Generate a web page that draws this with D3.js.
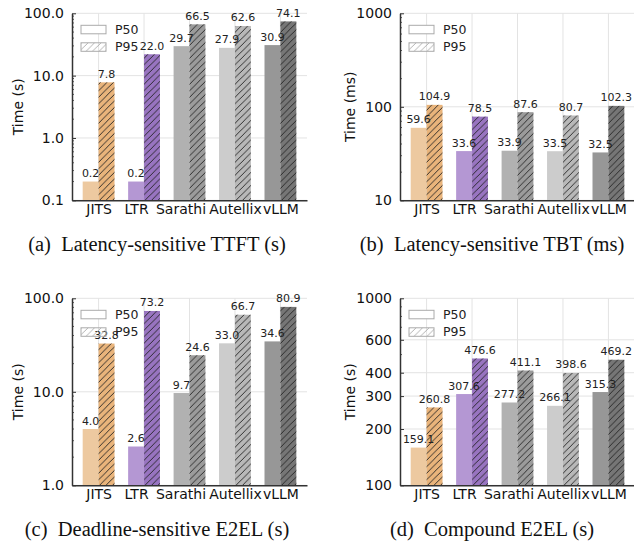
<!DOCTYPE html>
<html>
<head>
<meta charset="utf-8">
<script src="https://cdn.jsdelivr.net/npm/d3@7"></script>
<style>
  body { margin: 0; background: #fff; }
  text { font-family: "DejaVu Sans", sans-serif; }
  text.caption { font-family: "Liberation Serif", "Times New Roman", serif; white-space: pre; }
</style>
</head>
<body>
<script>
// systems on the x axis
var systems = ["JITS", "LTR", "Sarathi", "Autellix", "vLLM"];
var seriesNames = ["P50", "P95"];

// (a) latency-sensitive TTFT (s)
var ttftP50 = [0.2, 0.2, 29.7, 27.9, 30.9];
var ttftP95 = [7.8, 22.0, 66.5, 62.6, 74.1];
// (b) latency-sensitive TBT (ms)
var tbtP50 = [59.6, 33.6, 33.9, 33.5, 32.5];
var tbtP95 = [104.9, 78.5, 87.6, 80.7, 102.3];
// (c) deadline-sensitive E2EL (s)
var e2elP50 = [4.0, 2.6, 9.7, 33.0, 34.6];
var e2elP95 = [32.8, 73.2, 24.6, 66.7, 80.9];
// (d) compound E2EL (s)
var compP50 = [159.1, 307.6, 277.2, 266.1, 315.3];
var compP95 = [260.8, 476.6, 411.1, 398.6, 469.2];

// y ticks
var ticksA = [0.1, 1, 10, 100];
var ticksB = [10, 100, 1000];
var ticksC = [1, 10, 100];
var ticksD = [100, 200, 300, 400, 600, 1000];

var captions = [
  "(a)  Latency-sensitive TTFT (s)",
  "(b)  Latency-sensitive TBT (ms)",
  "(c)  Deadline-sensitive E2EL (s)",
  "(d)  Compound E2EL (s)"
];

var colorsP50 = ["#edc9a0", "#b497d3", "#b1b1b1", "#cccccc", "#979797"];
var colorsP95 = ["#e9b47b", "#9874c0", "#9b9b9b", "#b8b8b8", "#767676"];

var panels = [
  {p50: ttftP50, p95: ttftP95, ticks: ticksA, fmt: d3.format(".1f"), ylabel: "Time (s)", cap: captions[0], left: 72, top: 13.3, lblX: -49},
  {p50: tbtP50, p95: tbtP95, ticks: ticksB, fmt: d3.format("d"), ylabel: "Time (ms)", cap: captions[1], left: 400, top: 13.3, lblX: -45},
  {p50: e2elP50, p95: e2elP95, ticks: ticksC, fmt: d3.format(".1f"), ylabel: "Time (s)", cap: captions[2], left: 72, top: 298.3, lblX: -49},
  {p50: compP50, p95: compP95, ticks: ticksD, fmt: d3.format("d"), ylabel: "Time (s)", cap: captions[3], left: 400, top: 298.3, lblX: -45}
];

var w = 634, h = 546;
var pw = 235, ph = 187;
var barW = 0.35;
// the reference nudges the LTR and Sarathi labels to the left
var labelShift = [0, -8, -9, 0, 0];

var svg = d3.select("body").append("svg")
  .attr("width", w)
  .attr("height", h);

var defs = svg.append("defs");
defs.append("pattern")
  .attr("id", "hatch")
  .attr("patternUnits", "userSpaceOnUse")
  .attr("width", 6.5).attr("height", 6.5)
  .append("path")
  .attr("d", "M-1,1 l2,-2 M0,6.5 l6.5,-6.5 M5.5,7.5 l2,-2")
  .attr("stroke", "#222")
  .attr("stroke-width", 0.9);
defs.append("pattern")
  .attr("id", "hatchLegend")
  .attr("patternUnits", "userSpaceOnUse")
  .attr("width", 6.5).attr("height", 6.5)
  .append("path")
  .attr("d", "M-1,1 l2,-2 M0,6.5 l6.5,-6.5 M5.5,7.5 l2,-2")
  .attr("stroke", "#aaa")
  .attr("stroke-width", 0.9);

panels.forEach(function (p) {
  var g = svg.append("g").attr("transform", "translate(" + p.left + "," + p.top + ")");
  var ymin = p.ticks[0], ymax = p.ticks[p.ticks.length - 1];

  var x = d3.scaleLinear().domain([-0.585, 4.585]).range([0, pw]);
  var y = d3.scaleLog().domain([ymin, ymax]).range([ph, 0]);

  // grid
  g.selectAll("line.vgrid").data(systems).enter().append("line")
    .attr("x1", function (d, i) { return x(i); })
    .attr("x2", function (d, i) { return x(i); })
    .attr("y1", 0).attr("y2", ph)
    .attr("stroke", "#e3e3e3").attr("stroke-width", 1);
  g.selectAll("line.hgrid").data(p.ticks).enter().append("line")
    .attr("x1", 0).attr("x2", pw)
    .attr("y1", function (d) { return y(d); })
    .attr("y2", function (d) { return y(d); })
    .attr("stroke", "#e3e3e3").attr("stroke-width", 1);

  // bars
  [p.p50, p.p95].forEach(function (vals, s) {
    var off = s == 0 ? -barW : 0;
    var bars = g.selectAll("g.bar" + s).data(vals).enter().append("g");
    bars.append("rect")
      .attr("x", function (d, i) { return x(i + off); })
      .attr("width", x(barW) - x(0))
      .attr("y", function (d) { return y(d); })
      .attr("height", function (d) { return ph - y(d); })
      .attr("fill", function (d, i) { return s == 0 ? colorsP50[i] : colorsP95[i]; });
    if (s == 1) {
      bars.append("rect")
        .attr("x", function (d, i) { return x(i + off); })
        .attr("width", x(barW) - x(0))
        .attr("y", function (d) { return y(d); })
        .attr("height", function (d) { return ph - y(d); })
        .attr("fill", "url(#hatch)");
    }
  });

  // value labels on top of all bars
  [p.p50, p.p95].forEach(function (vals, s) {
    var off = s == 0 ? -barW : 0;
    g.selectAll("text.val" + s).data(vals).enter().append("text")
      .attr("x", function (d, i) { return x(i + off + barW / 2); })
      .attr("y", function (d) { return y(d) - 4.5; })
      .attr("text-anchor", "middle")
      .attr("font-size", "11px")
      .attr("fill", "#222")
      .text(function (d) { return d.toFixed(1); });
  });

  // minor ticks
  var minor = [];
  for (var e = Math.floor(Math.log10(ymin)); e < Math.log10(ymax); e++) {
    for (var k = 2; k <= 9; k++) {
      var v = k * Math.pow(10, e);
      if (v > ymin && v < ymax && p.ticks.indexOf(+v.toPrecision(6)) < 0) minor.push(v);
    }
  }
  g.selectAll("line.minor").data(minor).enter().append("line")
    .attr("x1", 0).attr("x2", 2)
    .attr("y1", function (d) { return y(d); })
    .attr("y2", function (d) { return y(d); })
    .attr("stroke", "#333").attr("stroke-width", 0.8);

  // y axis
  var yAxis = d3.axisLeft(y).tickValues(p.ticks).tickFormat(p.fmt)
    .tickSizeInner(-4).tickSizeOuter(0).tickPadding(8);
  var ya = g.append("g").call(yAxis);
  ya.select(".domain").attr("stroke", "#333").attr("stroke-width", 1.5);
  ya.selectAll(".tick line").attr("stroke", "#333").attr("stroke-width", 1);
  ya.selectAll(".tick text").attr("font-size", "14px").attr("fill", "#111");

  // x axis
  var xAxis = d3.axisBottom(x).tickValues([0, 1, 2, 3, 4])
    .tickFormat(function (i) { return systems[i]; })
    .tickSize(0).tickPadding(4);
  var xa = g.append("g").attr("transform", "translate(0," + ph + ")").call(xAxis);
  xa.select(".domain").attr("stroke", "#333").attr("stroke-width", 1.5);
  xa.selectAll(".tick text").attr("font-size", "14px").attr("fill", "#111")
    .attr("dx", function (d) { return labelShift[d]; });

  // y label
  g.append("text")
    .attr("transform", "translate(" + p.lblX + "," + (ph / 2) + ") rotate(-90)")
    .attr("text-anchor", "middle")
    .attr("font-size", "14px")
    .attr("fill", "#111")
    .text(p.ylabel);

  // legend
  seriesNames.forEach(function (name, s) {
    var ly = 12 + s * 17.5;
    g.append("rect")
      .attr("x", 9).attr("y", ly)
      .attr("width", 25).attr("height", 8.5)
      .attr("fill", s == 0 ? "#fff" : "url(#hatchLegend)")
      .attr("stroke", "#aaa").attr("stroke-width", 1);
    g.append("text")
      .attr("x", 43).attr("y", ly + 8.5)
      .attr("font-size", "12.5px")
      .attr("fill", "#222")
      .text(name);
  });

  // caption
  g.append("text")
    .attr("class", "caption")
    .attr("x", p.left == 72 ? 85 : 92)
    .attr("y", ph + 51)
    .attr("text-anchor", "middle")
    .attr("font-size", "20.5px")
    .attr("fill", "#111")
    .text(p.cap);
});
</script>
</body>
</html>
